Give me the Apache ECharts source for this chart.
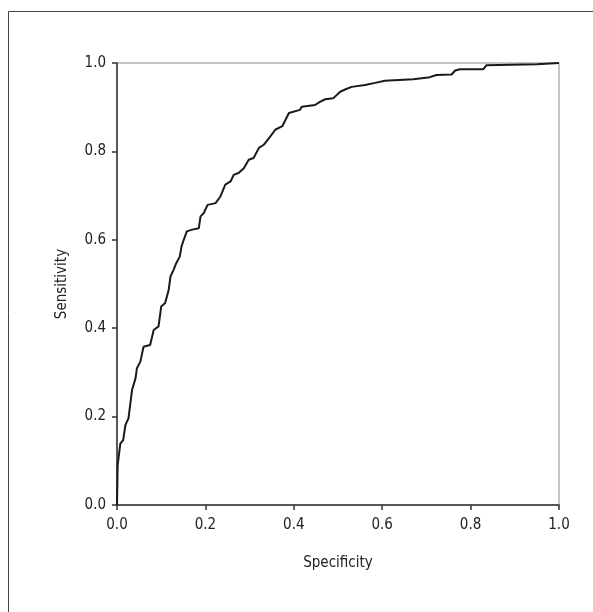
<!DOCTYPE html>
<html>
<head>
<meta charset="utf-8">
<script src="https://cdn.jsdelivr.net/npm/echarts@6/dist/echarts.min.js"></script>
<style>
  html, body { margin: 0; padding: 0; background: #fff; }
  #roc { width: 593px; height: 612px; }
</style>
</head>
<body>
<div id="roc"></div>
<script>
  // ROC curve (x = specificity axis, y = sensitivity)
  let fpr = [0, 0.0015, 0.0075, 0.014, 0.019, 0.026, 0.034, 0.042, 0.045, 0.053,
    0.06, 0.075, 0.083, 0.094, 0.1, 0.109, 0.117, 0.121, 0.128, 0.134,
    0.142, 0.146, 0.151, 0.158, 0.17, 0.185, 0.189, 0.196, 0.205, 0.223,
    0.234, 0.245, 0.257, 0.264, 0.275, 0.287, 0.298, 0.309, 0.321, 0.332,
    0.347, 0.358, 0.374, 0.389, 0.414, 0.418, 0.448, 0.459, 0.471, 0.489,
    0.505, 0.516, 0.531, 0.561, 0.584, 0.606, 0.67, 0.704, 0.723, 0.757,
    0.765, 0.776, 0.829, 0.836, 0.95, 0.953, 1.0]
  let tpr = [0, 0.09, 0.139, 0.147, 0.181, 0.196, 0.26, 0.287, 0.309, 0.325,
    0.358, 0.362, 0.396, 0.404, 0.449, 0.457, 0.487, 0.517, 0.532, 0.547,
    0.562, 0.585, 0.6, 0.619, 0.623, 0.626, 0.653, 0.66, 0.679, 0.683,
    0.698, 0.725, 0.732, 0.747, 0.751, 0.762, 0.781, 0.785, 0.808, 0.815,
    0.834, 0.849, 0.857, 0.887, 0.894, 0.901, 0.905, 0.912, 0.918, 0.92,
    0.935, 0.94, 0.946, 0.95, 0.955, 0.96, 0.963, 0.967, 0.973, 0.974,
    0.983, 0.986, 0.986, 0.995, 0.997, 1.0, 1.0]
  let tickLabels = ['0.0', '0.2', '0.4', '0.6', '0.8', '1.0']

  let points = fpr.map((v, i) => [v, tpr[i]])
  let fontName = '"DejaVu Sans Condensed", "Liberation Sans Narrow", sans-serif'

  let chart = echarts.init(document.getElementById('roc'))
  chart.setOption({
    animation: false,
    backgroundColor: '#fff',
    graphic: [{
      type: 'rect',
      shape: { x: 8.5, y: 11.5, width: 800, height: 800 },
      style: { fill: 'none', stroke: '#444', lineWidth: 1 },
      silent: true
    }],
    grid: {
      left: 117,
      top: 63,
      width: 442,
      height: 442,
      show: true,
      borderColor: '#8a8a8a',
      borderWidth: 1
    },
    xAxis: {
      type: 'value',
      min: 0,
      max: 1,
      interval: 0.2,
      name: 'Specificity',
      nameLocation: 'middle',
      nameGap: 51,
      nameTextStyle: { fontFamily: fontName, fontSize: 15, color: '#222' },
      axisLine: { show: true, lineStyle: { color: '#333', width: 1.5 } },
      axisTick: { show: true, length: 5, lineStyle: { color: '#333', width: 1.5 } },
      axisLabel: {
        margin: 13,
        fontFamily: fontName,
        fontSize: 15,
        color: '#222',
        formatter: (v) => tickLabels[Math.round(v * 5)]
      },
      splitLine: { show: false }
    },
    yAxis: {
      type: 'value',
      min: 0,
      max: 1,
      interval: 0.2,
      name: 'Sensitivity',
      nameLocation: 'middle',
      nameGap: 47,
      nameTextStyle: { fontFamily: fontName, fontSize: 15, color: '#222' },
      axisLine: { show: true, lineStyle: { color: '#333', width: 1.5 } },
      axisTick: { show: true, length: 5, lineStyle: { color: '#333', width: 1.5 } },
      axisLabel: {
        margin: 11,
        fontFamily: fontName,
        fontSize: 15,
        color: '#222',
        formatter: (v) => tickLabels[Math.round(v * 5)]
      },
      splitLine: { show: false }
    },
    series: [{
      type: 'line',
      data: points,
      showSymbol: false,
      lineStyle: { color: '#1a1a1a', width: 2 }
    }]
  })
</script>
</body>
</html>
